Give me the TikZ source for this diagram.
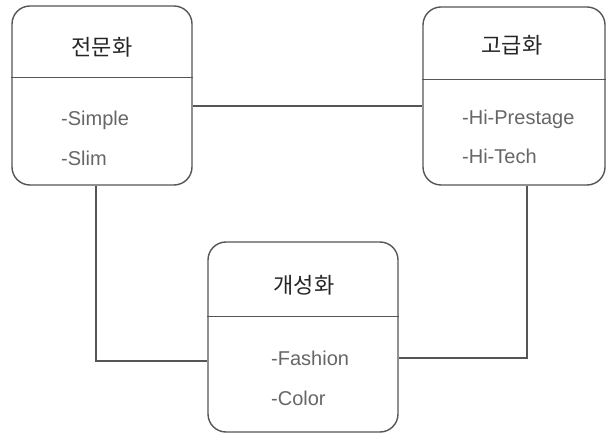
\documentclass[tikz,border=0pt]{standalone}
\usepackage{fontspec}
\setmainfont{Liberation Sans}
\newfontfamily\krfont{Noto Sans CJK KR}
\usetikzlibrary{positioning}
\definecolor{linegray}{HTML}{555555}
\definecolor{textgray}{HTML}{666666}

\begin{document}
\begin{tikzpicture}[
    x=1pt, y=-1pt,
    boxnode/.style={draw=linegray, line width=1.4pt, rounded corners=18pt, inner sep=0pt},
    titletext/.style={font=\krfont\fontsize{22}{26}\selectfont, text=black!85, inner sep=0pt},
    itemtext/.style={font=\fontsize{20}{24}\selectfont, text=textgray, inner sep=0pt, anchor=base west},
    connline/.style={draw=linegray, line width=1.4pt}
    ]
        \useasboundingbox (0,0) rectangle (612,435);
        %Nodes
        \node[boxnode, minimum width=180pt, minimum height=179pt] 
            (jeon)      at (102,95.5)   {};
        \node[boxnode, minimum width=182pt, minimum height=178pt] 
            (gogeup)    at (514,96)     {};
        \node[boxnode, minimum width=190pt, minimum height=190pt] 
            (gaeseong)  at (303,337)    {};

        \node[titletext] (jeonT)     at (102,47)  {전문화};
        \node[titletext] (gogeupT)   at (512,45)  {고급화};
        \node[titletext] (gaeseongT) at (304,285) {개성화};

        \node[itemtext] (jeonA)     at (61,126)  {-Simple};
        \node[itemtext] (jeonB)     at ([yshift=-40pt]jeonA.base west) {-Slim};
        \node[itemtext] (gogeupA)   at (462,125) {-Hi-Prestage};
        \node[itemtext] (gogeupB)   at ([yshift=-39pt]gogeupA.base west) {-Hi-Tech};
        \node[itemtext] (gaeseongA) at (271,365) {-Fashion};
        \node[itemtext] (gaeseongB) at ([yshift=-40pt]gaeseongA.base west) {-Color};

        %Dividers
        \draw[connline] ([yshift=-72pt]jeon.north west) -- ([yshift=-72pt]jeon.north east);
        \draw[connline] ([yshift=-73pt]gogeup.north west) -- ([yshift=-73pt]gogeup.north east);
        \draw[connline] ([yshift=-75pt]gaeseong.north west) -- ([yshift=-75pt]gaeseong.north east);

        %Lines
        \draw[connline] 
            ([yshift=-10.5pt]jeon.east) -- ([yshift=-10.5pt]jeon.east -| gogeup.west);
        \draw[connline] 
            ([xshift=-6pt]jeon.south) |- ([yshift=-24pt]gaeseong.west);
        \draw[connline] 
            ([yshift=-21pt]gaeseong.east) -| ([xshift=13pt]gogeup.south);
    \end{tikzpicture}
\end{document}
